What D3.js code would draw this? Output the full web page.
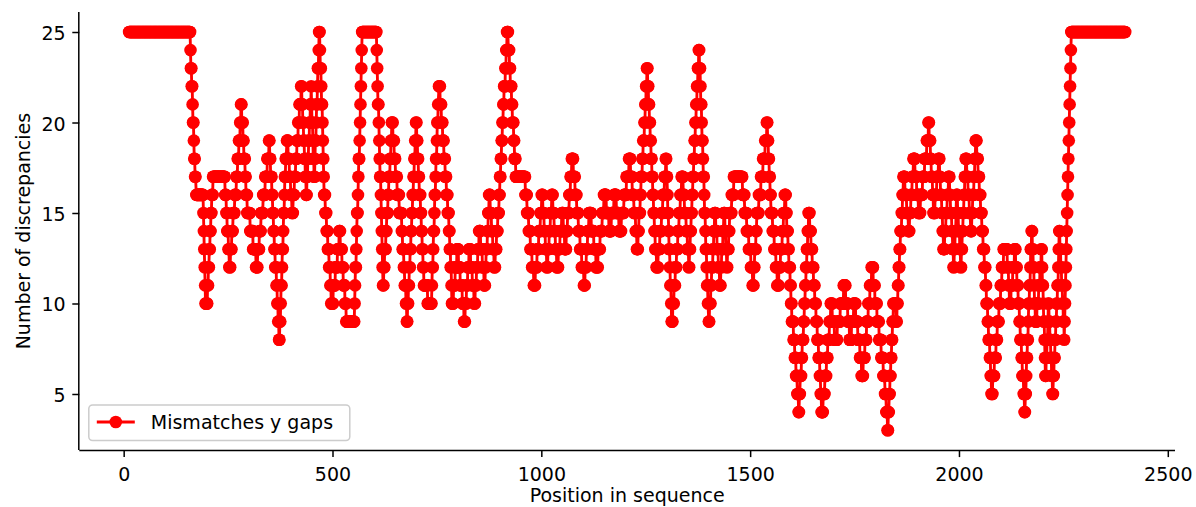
<!DOCTYPE html>
<html>
<head>
<meta charset="utf-8">
<script src="https://cdn.jsdelivr.net/npm/d3@7"></script>
<style>
  html, body { margin: 0; padding: 0; background: #ffffff; }
  svg { display: block; }
  text { font-family: "DejaVu Sans", sans-serif; fill: #000000; }
</style>
</head>
<body>
<svg id="chart" width="1196" height="507"></svg>
<script>
// Sliding-window discrepancy counts along the alignment.
// "@n" sets the sequence position of the next value; "v*k" repeats value v for k positions.
const discrepancyRuns = `
@13 25*146
@159 25 24 23*2 22*2 21 20*2 19 18*2 17*2
@174 16*16
@190 16 15 14 13 12 11 10*2
@198 10*3 11*2 12*2 13*2 14*2 15*2 16*3 17*3
@217 17*24
@241 17*2 16*3 15*2 14*3 13*2
@253 12*3 13*3 14*3 15*4 16*4 17*3 18*3 19*3 20*2
@281 21*2 20*3 19*2 18*3 17*2 16*3
@296 15*7 14*7 13*7
@317 12*4 13*4 14*4
@329 15*5 16*5 17*5 18*4
@348 19*2 18*2 17*3 16*2 15*2 14*2 13*2 12*3 11*2 10*2 9*2
@372 8*2 9*2 10 11*2 12 13*2 14 15*2 16 17*2 18*2
@391 19*3 18*3 17*3 16*3
@403 15*3 16*3 17*3 18*3 19*3 20*3 21*4
@425 22*2 21*2 20*2 19*2 18*2 17*2
@437 16*2 17*2 18*2 19*2 20*2 21*2
@449 22 21 20*2 19 18*2
@456 17*2 18 19*2 20 21*2 22 23*2 24
@468 25*2 24 23*2 22 21*2 20 19 18 17
@480 16*3 15*3 14*3 13*3 12*3 11*2
@497 10*5 11*5 12*5 13*4
@516 14*3 13*4 12*3 11*4 10*3
@533 9*19
@552 9 10 11 12*2 13 14 15*2 16 17 18*2 19 20 21 22 23 24
@571 25*33
@604 25*2 24 23 22 21*2 20 19 18 17*2 16 15 14 13 12
@621 11*2 12*2 13*3 14*2 15*3 16*2 17*3 18*2 19*2
@642 20*3 19*3 18*3 17*4 16*5 15*6
@666 14*2 13*3 12*2 11*3 10*2
@678 9*2 10*2 11*2 12*2 13*2 14*2 15*2 16*2 17*2 18*2 19*2
@700 20*2 19*2 18*2 17*2 16*3 15*2 14*2 13*2 12*2
@719 11*9 10*8
@736 10*2 11 12*2 13 14*2 15 16*2 17 18*2 19 20*2 21
@755 22*3 21*3 20*3 19*3 18*3 17*3 16*3 15*3
@779 14*2 13*2 12*2 11
@786 10*4 11*4 12*4
@798 13*4 12*4 11*5 10*4
@815 9*3 10*3 11*3 12*3
@827 13*4 12*4 11*4
@839 10*3 11*3 12*3 13*3
@851 14*4 13*4 12*4
@863 11*3 12*2 13*3 14*2 15*2
@875 16*3 15*3 14*3 13*3
@887 12*3 13*3 14*3 15*3
@899 16*2 17*2 18*2 19*2 20*2 21*2 22*3 23*2 24*2
@918 25*3 24*3 23*2 22*3 21*2 20*3 19*2 18*3
@939 17*19
@958 17*4 16*4 15*4 14*4 13*4 12*4
@982 11*4 12*4 13*4 14*4 15*3
@1001 16*3 15*3 14*3 13*3
@1013 12*3 13*3 14*3 15*3
@1025 16*3 15*3 14*3 13*3
@1037 12*4 13*4 14*4
@1049 15*4 14*3
@1056 13*4 14*3 15*4 16*3 17*3
@1073 18*4 17*4 16*4 15*4 14*4 13*4 12*5
@1102 11*3 12*3 13*3 14*3
@1114 15*6 14*6 13*5
@1131 12*5 13*5 14*5 15*4
@1150 16*6 15*6
@1162 14*6 15*6
@1174 16*6 15*6
@1186 14*6 15*6 16*6 17*6
@1210 18*4 17*4 16*4 15*4 14*3
@1229 13*3 14*2 15*3 16*2 17*3 18*2 19*3 20*2 21*2 22*2
@1253 23*2 22*2 21*2 20*2 19*2 18*2 17*2 16*2 15*2 14*2 13*3
@1276 12*4 13*4 14*4 15*3 16*4 17*3
@1298 18*2 17*2 16 15*2 14 13*2 12 11*2 10
@1312 9*3 10*3 11*3 12*3 13*3 14*3 15*3 16*3
@1336 17*4 16*3 15*4 14*3 13*3
@1353 12*2 13*2 14*2 15*2 16*2 17*2 18*2 19*2 20*2 21*2 22*2 23*2
@1377 24*2 23*2 22 21*2 20 19*2 18 17*2 16 15*2 14 13*2 12 11*2 10
@1401 9*2 10*3 11*2 12*3 13*2 14*2
@1415 15*3 14*3 13*3 12*3
@1427 11*3 12*2 13*3 14*2
@1437 15*3 14*2 13*2
@1444 12*2 13*3 14*2
@1451 15*5 16*5
@1461 17*19
@1480 17*2 16*5
@1487 15*5 14*5 13*5 12*4
@1506 11*3 12*2 13*3 14*2
@1516 15*5 16*5 17*5 18*5 19*4
@1540 20*2 19*2 18*2 17*2 16*2
@1550 15*4 14*4 13*4 12*3
@1565 11*4 12*4 13*4 14*3 15*3
@1583 16*3 15*2 14*3 13*2 12*3 11*2 10*2
@1600 9*4 8*3 7*3 6*3 5*3
@1616 4*2 5*2 6*3 7*2 8*3
@1628 9*2 10*2 11*2 12*2 13*2 14*2
@1640 15*3 14*3 13*3 12*3 11*3 10*3 9*3 8*3 7*3 6*2 5*2
@1671 4*4 5*4 6*4 7*3 8*4 9*3
@1693 10*4 9*5
@1702 8*7 9*7 10*8
@1724 11*5 10*5 9*4
@1738 8*5 9*5
@1748 10*5 9*5 8*5 7*4
@1767 6*4 7*4 8*4 9*4 10*4 11*4
@1791 12*4 11*4 10*5 9*5 8*5 7*5 6*4 5*3 4*3
@1829 3*2 4*2 5*2 6*2 7*2 8*2 9*2
@1843 10*7
@1850 9*2 10*2 11*2 12*2 13*2 14*3 15*2 16*2
@1867 17*4 16*4 15*4
@1879 14*3 15*3 16*3 17*3
@1891 18*4 17*4 16*4
@1903 15*5 16*5 17*5 18*5 19*4
@1927 20*2 19*3 18*2 17*3 16*2
@1939 15*4 16*4 17*4
@1951 18*3 17*2 16*3 15*2 14*2
@1963 13*3 14*3 15*3 16*3
@1975 17*3 16*2 15*3 14*2 13*2
@1987 12*2 13*2 14*2 15
@1994 16*3 15*2 14*3 13*2
@2004 12*2 13*2 14*2 15*2 16*2 17*2
@2016 18*3 17*3 16*3 15*3
@2028 14*3 15*2 16*3 17*2 18*2
@2040 19*3 18*3 17*3 16*3
@2052 15*3 14*3 13*3 12*3 11*2 10*3 9*2 8*3 7*2 6*2
@2078 5*3 6*4 7*4 8*3 9*4 10*4 11*3 12*4
@2107 13*7
@2114 13*2 12*3 11*2
@2121 10*4 11*4 12*4
@2133 13*3 12*3 11*3 10*3 9*2 8*3 7*2 6*3 5*2
@2157 4*2 5*2 6 7*2 8*2 9 10*2 11*2 12 13*2
@2174 14*2 13*2 12*2 11 10*2
@2183 9*4 10*4 11*3 12*3
@2197 13*2 12 11*2 10 9*2 8 7
@2207 6*2 7*2 8*2 9
@2214 10*2 9*2 8*2 7*2 6*2
@2224 5*2 6*2 7*2 8*2 9*2 10*2 11*2 12 13
@2240 14*2 13*2 12*2 11*2 10*2 9*2
@2252 8 9 10 11 12 13 14 15 16 17 18 19 20 21 22 23 24
@2269 25*130
`;

const xTickValues = [0, 500, 1000, 1500, 2000, 2500];
const yTickValues = [5, 10, 15, 20, 25];
const seriesName = "Mismatches y gaps";
const xAxisTitle = "Position in sequence";
const yAxisTitle = "Number of discrepancies";

// Decode the run list into position / count pairs.
const positions = [];
const counts = [];
let cursor = 0;
discrepancyRuns.trim().split(/\s+/).forEach(tok => {
  if (tok[0] === "@") { cursor = +tok.slice(1); return; }
  const [v, k] = tok.split("*");
  const reps = k ? +k : 1;
  for (let i = 0; i < reps; i++) { positions.push(cursor++); counts.push(+v); }
});
const points = positions.map((p, i) => ({ x: p, y: counts[i] }));

// Layout
const plot = { left: 79.3, right: 1175, top: 12.1, bottom: 450.1 };
const red = "#ff0000";
const fontSize = 19;
const tickLen = 7;
const tickPad = 6.7;
const markerR = 6.3;

const svg = d3.select("#chart");

// Axis ranges padded by 5% of the data span on each side.
const [xMin, xMax] = d3.extent(points, d => d.x);
const [yMin, yMax] = d3.extent(points, d => d.y);
const xPad = (xMax - xMin) * 0.05, yPad = (yMax - yMin) * 0.05;

const x = d3.scaleLinear().domain([xMin - xPad, xMax + xPad]).range([plot.left, plot.right]);
const y = d3.scaleLinear().domain([yMin - yPad, yMax + yPad]).range([plot.bottom, plot.top]);

// Series: connecting line, then round markers on top.
const g = svg.append("g");
g.append("path")
  .datum(points)
  .attr("fill", "none")
  .attr("stroke", red)
  .attr("stroke-width", 2.85)
  .attr("stroke-linejoin", "round")
  .attr("stroke-linecap", "square")
  .attr("d", d3.line().x(d => x(d.x)).y(d => y(d.y)));

g.append("g")
  .selectAll("circle")
  .data(points)
  .join("circle")
  .attr("cx", d => x(d.x))
  .attr("cy", d => y(d.y))
  .attr("r", markerR)
  .attr("fill", red);

// Axes (left and bottom spines only)
const xAxis = d3.axisBottom(x).tickValues(xTickValues).tickSize(tickLen).tickPadding(tickPad).tickFormat(d3.format("d"));
const yAxis = d3.axisLeft(y).tickValues(yTickValues).tickSize(tickLen).tickPadding(tickPad).tickFormat(d3.format("d"));

const gx = svg.append("g").attr("transform", `translate(0,${plot.bottom})`).call(xAxis);
gx.select(".domain").attr("d", `M${plot.left},0.5H${plot.right}`);
const gy = svg.append("g").attr("transform", `translate(${plot.left},0)`).call(yAxis);
gy.select(".domain").attr("d", `M-0.5,${plot.top}V${plot.bottom}`);

[gx, gy].forEach(a => {
  a.attr("font-family", null).attr("font-size", null);
  a.selectAll(".domain").attr("stroke", "#000").attr("stroke-width", 1.5).attr("fill", "none");
  a.selectAll(".tick line").attr("stroke", "#000").attr("stroke-width", 1.5);
  a.selectAll(".tick text").attr("font-size", fontSize).attr("fill", "#000");
});
gx.selectAll(".tick text").attr("dy", null).attr("y", 31);
gy.selectAll(".tick text").attr("dy", null).attr("y", 7.5).attr("x", -(tickLen + tickPad));

// Axis titles
svg.append("text")
  .attr("x", (plot.left + plot.right) / 2)
  .attr("y", 501.5)
  .attr("text-anchor", "middle")
  .attr("font-size", fontSize)
  .text(xAxisTitle);

svg.append("text")
  .attr("transform", `translate(29.5,${(plot.top + plot.bottom) / 2}) rotate(-90)`)
  .attr("text-anchor", "middle")
  .attr("font-size", fontSize)
  .text(yAxisTitle);

// Legend
const legend = svg.append("g").attr("transform", "translate(88.8,405)");
legend.append("rect")
  .attr("x", 0).attr("y", 0)
  .attr("width", 261).attr("height", 35.5)
  .attr("rx", 3.8).attr("ry", 3.8)
  .attr("fill", "#ffffff").attr("fill-opacity", 0.8)
  .attr("stroke", "#cccccc").attr("stroke-width", 1.5);
legend.append("line")
  .attr("x1", 8).attr("x2", 46).attr("y1", 17).attr("y2", 17)
  .attr("stroke", red).attr("stroke-width", 2.85);
legend.append("circle")
  .attr("cx", 27).attr("cy", 17).attr("r", markerR).attr("fill", red);
legend.append("text")
  .attr("x", 62).attr("y", 23.5)
  .attr("font-size", fontSize)
  .text(seriesName);
</script>
</body>
</html>
